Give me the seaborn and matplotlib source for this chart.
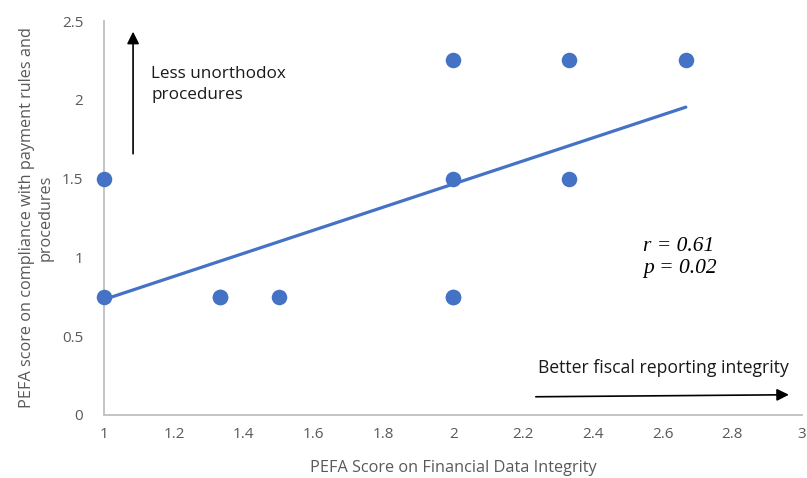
import matplotlib
matplotlib.use("Agg")
import matplotlib.pyplot as plt
import seaborn as sns
import pandas as pd

# Data (overlapping points included)
fin_integrity = [1, 1, 4/3, 4/3, 1.5, 2, 2, 2, 2, 7/3, 7/3, 8/3]
compliance = [1.5, 0.75, 0.75, 0.75, 0.75, 2.25, 1.5, 0.75, 0.75, 2.25, 1.5, 2.25]
x_ticks = [1, 1.2, 1.4, 1.6, 1.8, 2, 2.2, 2.4, 2.6, 2.8, 3]
y_ticks = [0, 0.5, 1, 1.5, 2, 2.5]

df = pd.DataFrame({"x": fin_integrity, "y": compliance})

sns.set_theme(style="white")
plt.rcParams['font.family'] = ['Open Sans', 'DejaVu Sans']

blue = "#4472C4"
gray_txt = "#595959"

fig = plt.figure(figsize=(8.07, 4.78), dpi=100)
ax = fig.add_axes([0.129, 0.132, 0.865, 0.824])

sns.regplot(data=df, x="x", y="y", ax=ax, ci=None,
            scatter_kws=dict(s=125, color=blue, alpha=1, clip_on=False, zorder=3, linewidths=0),
            line_kws=dict(color=blue, lw=2.3, zorder=2))

ax.set_xlim(1, 3)
ax.set_ylim(0, 2.5)
ax.set_xticks(x_ticks)
ax.set_xticklabels([f"{t:g}" for t in x_ticks])
ax.set_yticks(y_ticks)
ax.set_yticklabels([f"{t:g}" for t in y_ticks])
ax.tick_params(axis="both", length=0, labelsize=11, labelcolor=gray_txt, pad=9)
ax.tick_params(axis="y", pad=15)

for s in ["top", "right"]:
    ax.spines[s].set_visible(False)
for s in ["left", "bottom"]:
    ax.spines[s].set_color("#BFBFBF")
    ax.spines[s].set_linewidth(1.3)

ax.set_xlabel("PEFA Score on Financial Data Integrity", fontsize=11.7, color=gray_txt, labelpad=13)
ax.set_ylabel("PEFA score on compliance with payment rules and\nprocedures", fontsize=11.7,
              color=gray_txt, labelpad=6)

# Arrows and annotations
ax.annotate("", xy=(1.083, 2.45), xytext=(1.083, 1.64),
            arrowprops=dict(arrowstyle="-|>", color="black", lw=1.2, mutation_scale=18),
            annotation_clip=False)
ax.text(1.135, 2.215, "Less unorthodox\nprocedures", fontsize=12.3, color="#1a1a1a",
        va="top", ha="left", linespacing=1.4)

ax.annotate("", xy=(2.97, 0.128), xytext=(2.229, 0.115),
            arrowprops=dict(arrowstyle="-|>", color="black", lw=1.2, mutation_scale=18),
            annotation_clip=False)
ax.text(2.244, 0.3, "Better fiscal reporting integrity", fontsize=12.7, color="#1a1a1a",
        va="center", ha="left")

ax.text(2.545, 1.0, "r = 0.61\np = 0.02", fontsize=15.5, color="black",
        family=["Liberation Serif"], style="italic", va="center", ha="left",
        linespacing=1.2)

fig.savefig("out.png", dpi=100)
